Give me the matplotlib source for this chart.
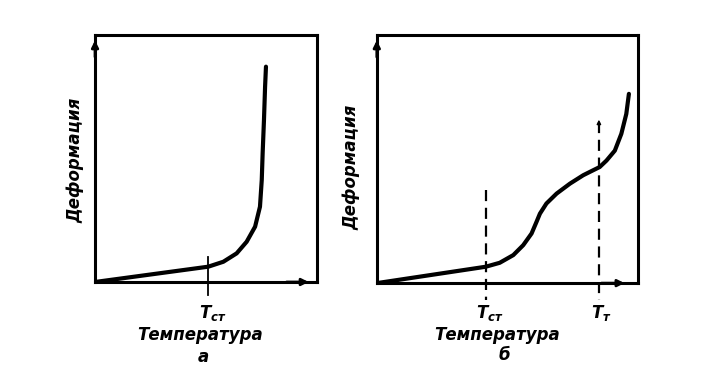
import matplotlib.pyplot as plt

# --- данные (нормированные единицы: температура 0..1, деформация 0..1) ---
temp_a = [0.0, 0.510, 0.578, 0.638, 0.683, 0.721, 0.743, 0.751, 0.755, 0.761, 0.766, 0.770]
deform_a = [0.0, 0.062, 0.082, 0.116, 0.163, 0.224, 0.305, 0.413, 0.521, 0.656, 0.791, 0.872]
tcm_a = 0.509

temp_b = [0.0, 0.417, 0.471, 0.523, 0.561, 0.593, 0.612, 0.625, 0.650, 0.689,
          0.740, 0.791, 0.829, 0.854, 0.880, 0.912, 0.937, 0.956, 0.966]
deform_b = [0.0, 0.066, 0.082, 0.113, 0.153, 0.200, 0.247, 0.280, 0.321, 0.361,
            0.401, 0.435, 0.455, 0.468, 0.494, 0.534, 0.602, 0.682, 0.763]
tcm_b = 0.418
tm_b = 0.851

FONT = dict(family="DejaVu Sans", style="oblique", weight="bold", size=12)

fig = plt.figure(figsize=(7.15, 3.77), dpi=100)
ax_a = fig.add_axes([0.1329, 0.252, 0.3105, 0.655])
ax_b = fig.add_axes([0.527, 0.249, 0.365, 0.658])

for ax in (ax_a, ax_b):
    ax.set_xlim(0, 1)
    ax.set_ylim(0, 1)
    ax.set_xticks([])
    ax.set_yticks([])
    for s in ax.spines.values():
        s.set_linewidth(2.2)
        s.set_color("black")
    # стрелки осей
    ax.annotate("", xy=(0, 0.99), xytext=(0, 0.9), xycoords="axes fraction",
                arrowprops=dict(arrowstyle="-|>", color="black", lw=2, mutation_scale=10))

# ---- а ----
ax_a.plot(temp_a, deform_a, color="black", lw=3, solid_capstyle="round", solid_joinstyle="round")
ax_a.plot([tcm_a, tcm_a], [0.101, -0.053], color="black", lw=1.3, clip_on=False)
ax_a.annotate("", xy=(0.975, 0.0), xytext=(0.85, 0.0), xycoords="axes fraction",
              arrowprops=dict(arrowstyle="-|>", color="black", lw=2, mutation_scale=10))
ax_a.text(0.53, -0.126, "T$_{\\mathregular{ст}}$", ha="center", va="center",
          transform=ax_a.transAxes, **FONT)
ax_a.text(0.473, -0.215, "Температура", ha="center", va="center", transform=ax_a.transAxes, **FONT)
ax_a.text(0.486, -0.304, "а", ha="center", va="center", transform=ax_a.transAxes, **FONT)
ax_a.text(-0.09, 0.494, "Деформация", ha="center", va="center", rotation=90,
          transform=ax_a.transAxes, **FONT)

# ---- б ----
ax_b.plot(temp_b, deform_b, color="black", lw=3, solid_capstyle="round", solid_joinstyle="round")
ax_b.plot([tcm_b, tcm_b], [0.375, -0.069], color="black", lw=1.6, ls=(0, (5, 3)), clip_on=False)
ax_b.plot([tm_b, tm_b], [0.65, -0.069], color="black", lw=1.6, ls=(0, (5, 3)), clip_on=False)
ax_b.annotate("", xy=(tm_b, 0.67), xytext=(tm_b, 0.6),
              arrowprops=dict(arrowstyle="-|>", color="black", lw=1, mutation_scale=6))
ax_b.annotate("", xy=(0.96, 0.0), xytext=(0.85, 0.0), xycoords="axes fraction",
              arrowprops=dict(arrowstyle="-|>", color="black", lw=2, mutation_scale=10))
ax_b.text(0.435, -0.12, "T$_{\\mathregular{ст}}$", ha="center", va="center",
          transform=ax_b.transAxes, **FONT)
ax_b.text(0.862, -0.12, "T$_{\\mathregular{т}}$", ha="center", va="center",
          transform=ax_b.transAxes, **FONT)
ax_b.text(0.46, -0.21, "Температура", ha="center", va="center", transform=ax_b.transAxes, **FONT)
ax_b.text(0.49, -0.29, "б", ha="center", va="center", transform=ax_b.transAxes, **FONT)
ax_b.text(-0.096, 0.468, "Деформация", ha="center", va="center", rotation=90,
          transform=ax_b.transAxes, **FONT)

fig.savefig("out.png", dpi=100)
